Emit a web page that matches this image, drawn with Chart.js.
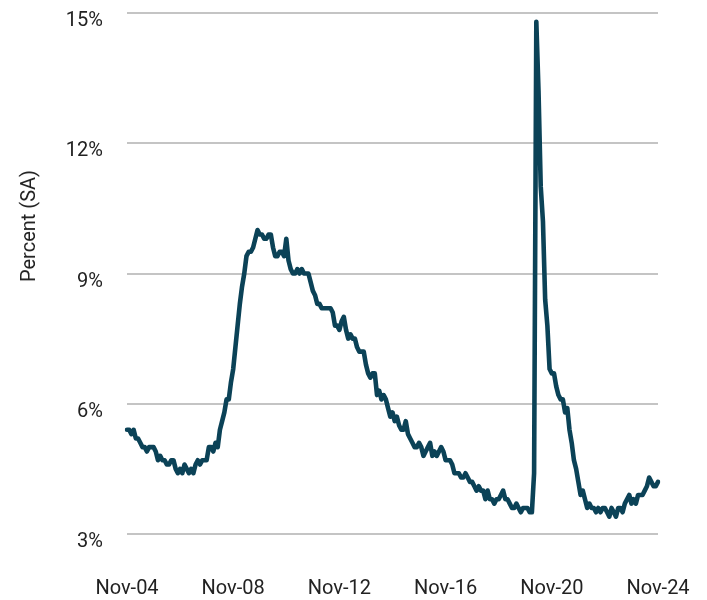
<!DOCTYPE html>
<html>
<head>
<meta charset="utf-8">
<script src="https://cdn.jsdelivr.net/npm/chart.js@4"></script>
<style>
  html, body { margin: 0; padding: 0; background: #ffffff; }
  #wrap { position: relative; width: 707px; height: 600px; }
  #yTitle {
    position: absolute; left: 28px; top: 226px;
    transform: translate(-50%, -50%) rotate(-90deg);
    font-family: Roboto, "Noto Sans", sans-serif; font-size: 20px; color: #222222;
    white-space: nowrap; line-height: 24px;
  }
</style>
</head>
<body>
<div id="wrap">
  <canvas id="c" width="707" height="600"></canvas>
  <div id="yTitle">Percent (SA)</div>
</div>
<script>
// Monthly unemployment rate (SA), Nov 2004 – Nov 2024
const startYear = 2004, startMonth = 10; // November (0-based)
const rate2004 = [5.4, 5.4];
const rate2005 = [5.3, 5.4, 5.2, 5.2, 5.1, 5.0, 5.0, 4.9, 5.0, 5.0, 5.0, 4.9];
const rate2006 = [4.7, 4.8, 4.7, 4.7, 4.6, 4.6, 4.7, 4.7, 4.5, 4.4, 4.5, 4.4];
const rate2007 = [4.6, 4.5, 4.4, 4.5, 4.4, 4.6, 4.7, 4.6, 4.7, 4.7, 4.7, 5.0];
const rate2008 = [5.0, 4.9, 5.1, 5.0, 5.4, 5.6, 5.8, 6.1, 6.1, 6.5, 6.8, 7.3];
const rate2009 = [7.8, 8.3, 8.7, 9.0, 9.4, 9.5, 9.5, 9.6, 9.8, 10.0, 9.9, 9.9];
const rate2010 = [9.8, 9.8, 9.9, 9.9, 9.6, 9.4, 9.4, 9.5, 9.5, 9.4, 9.8, 9.3];
const rate2011 = [9.1, 9.0, 9.0, 9.1, 9.0, 9.1, 9.0, 9.0, 9.0, 8.8, 8.6, 8.5];
const rate2012 = [8.3, 8.3, 8.2, 8.2, 8.2, 8.2, 8.2, 8.1, 7.8, 7.8, 7.7, 7.9];
const rate2013 = [8.0, 7.7, 7.5, 7.6, 7.5, 7.5, 7.3, 7.2, 7.2, 7.2, 6.9, 6.7];
const rate2014 = [6.6, 6.7, 6.7, 6.2, 6.3, 6.1, 6.2, 6.1, 5.9, 5.7, 5.8, 5.6];
const rate2015 = [5.7, 5.5, 5.4, 5.4, 5.6, 5.3, 5.2, 5.1, 5.0, 5.0, 5.1, 5.0];
const rate2016 = [4.8, 4.9, 5.0, 5.1, 4.8, 4.9, 4.8, 4.9, 5.0, 4.9, 4.7, 4.7];
const rate2017 = [4.7, 4.6, 4.4, 4.4, 4.4, 4.3, 4.3, 4.4, 4.3, 4.2, 4.2, 4.1];
const rate2018 = [4.0, 4.1, 4.0, 4.0, 3.8, 4.0, 3.8, 3.8, 3.7, 3.8, 3.8, 3.9];
const rate2019 = [4.0, 3.8, 3.8, 3.7, 3.6, 3.6, 3.7, 3.6, 3.5, 3.6, 3.6, 3.6];
const rate2020 = [3.5, 3.5, 4.4, 14.8, 13.2, 11.0, 10.2, 8.4, 7.8, 6.8, 6.7, 6.7];
const rate2021 = [6.4, 6.2, 6.1, 6.1, 5.8, 5.9, 5.4, 5.1, 4.7, 4.5, 4.2, 3.9];
const rate2022 = [4.0, 3.8, 3.6, 3.7, 3.6, 3.6, 3.5, 3.6, 3.5, 3.6, 3.6, 3.5];
const rate2023 = [3.4, 3.6, 3.5, 3.4, 3.6, 3.6, 3.5, 3.7, 3.8, 3.9, 3.7, 3.8];
const rate2024 = [3.7, 3.9, 3.9, 3.9, 4.0, 4.1, 4.3, 4.2, 4.1, 4.1, 4.2];

const xTickLabels = ['Nov-04', 'Nov-08', 'Nov-12', 'Nov-16', 'Nov-20', 'Nov-24'];
const yTickValues = [3, 6, 9, 12, 15];
const yTickLabels = ['3%', '6%', '9%', '12%', '15%'];
const yAxisTitle = 'Percent (SA)';

const values = [].concat(rate2004, rate2005, rate2006, rate2007, rate2008, rate2009,
  rate2010, rate2011, rate2012, rate2013, rate2014, rate2015, rate2016, rate2017,
  rate2018, rate2019, rate2020, rate2021, rate2022, rate2023, rate2024);

const monthNames = ['Jan','Feb','Mar','Apr','May','Jun','Jul','Aug','Sep','Oct','Nov','Dec'];
const categories = values.map((_, i) => {
  const m = startMonth + i;
  const y = startYear + Math.floor(m / 12);
  return monthNames[m % 12] + '-' + String(y % 100).padStart(2, '0');
});

document.getElementById('yTitle').textContent = yAxisTitle;

const FONT = 'Roboto, "Noto Sans", sans-serif';

new Chart(document.getElementById('c'), {
  type: 'line',
  data: {
    labels: categories,
    datasets: [{
      data: values,
      borderColor: '#0b4257',
      borderWidth: 4.6,
      pointRadius: 0,
      tension: 0,
      borderJoinStyle: 'round',
      borderCapStyle: 'round',
      fill: false
    }]
  },
  options: {
    responsive: false,
    animation: false,
    layout: { padding: { top: 13, right: 49, bottom: 0, left: 0 } },
    plugins: { legend: { display: false }, tooltip: { enabled: false } },
    scales: {
      x: {
        type: 'category',
        grid: { display: false, drawTicks: false },
        border: { display: false },
        afterFit: (s) => { s.height = 66; s.paddingLeft = 0; s.paddingRight = 0; s.paddingTop = 0; s.paddingBottom = 0; },
        ticks: {
          autoSkip: false,
          maxRotation: 0,
          minRotation: 0,
          padding: 43,
          color: '#222222',
          font: { family: FONT, size: 20 },
          callback: function (v, i) {
            const lab = categories[i];
            return xTickLabels.includes(lab) ? lab : '';
          }
        }
      },
      y: {
        min: yTickValues[0],
        max: yTickValues[yTickValues.length - 1],
        afterFit: (s) => { s.width = 127; s.paddingTop = 0; s.paddingBottom = 0; s.paddingLeft = 0; s.paddingRight = 0; },
        afterBuildTicks: (s) => { s.ticks = yTickValues.map(v => ({ value: v })); },
        grid: { color: '#c4c4c4', lineWidth: 2, drawTicks: false },
        border: { display: false },
        ticks: {
          padding: 24,
          labelOffset: 8,
          color: '#222222',
          font: { family: FONT, size: 20 },
          callback: (v) => yTickLabels[yTickValues.indexOf(v)]
        }
      }
    }
  }
});
</script>
</body>
</html>
